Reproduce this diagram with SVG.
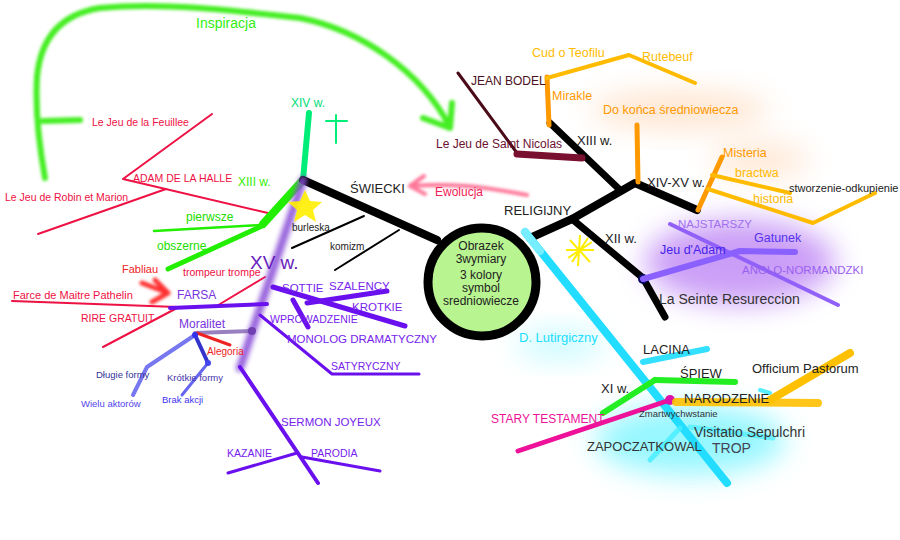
<svg xmlns="http://www.w3.org/2000/svg" width="900" height="540" viewBox="0 0 900 540">
<defs>
<filter id="glow" x="-50%" y="-50%" width="200%" height="200%"><feGaussianBlur stdDeviation="14"/></filter>
<filter id="soft" x="-20%" y="-20%" width="140%" height="140%"><feGaussianBlur stdDeviation="1.5"/></filter>
<filter id="blurline" x="-20%" y="-20%" width="140%" height="140%"><feGaussianBlur stdDeviation="2.5"/></filter>
<style>
text{font-family:"Liberation Sans","DejaVu Sans",sans-serif}
.k{fill:#222}
.ln{fill:none;stroke-linecap:round;stroke-linejoin:round}
.red{fill:#ee1144}
.pur{fill:#7722ee}
.yel{fill:#ffbb00}
.org{fill:#ff9900}
</style>
</defs>
<rect width="900" height="540" fill="#fff"/>

<g id="glows">
<ellipse cx="740" cy="262" rx="95" ry="42" fill="#a050f0" opacity="0.55" filter="url(#glow)"/>
<ellipse cx="690" cy="440" rx="95" ry="35" fill="#40f0ff" opacity="0.55" filter="url(#glow)"/>
<ellipse cx="560" cy="345" rx="45" ry="16" fill="#40f0ff" opacity="0.25" filter="url(#glow)"/>
<ellipse cx="680" cy="110" rx="90" ry="20" fill="#ffb070" opacity="0.3" filter="url(#glow)"/>
<ellipse cx="760" cy="160" rx="50" ry="20" fill="#ffb070" opacity="0.25" filter="url(#glow)"/>
</g>

<g id="connectors" class="ln">
<g stroke="#44ee22" stroke-width="6" filter="url(#soft)" fill="none">
<path d="M45 178 C40 150 35 110 37 77 C40 45 55 15 100 8 C160 2 230 10 300 18 C360 30 420 70 450 127"/>
<path d="M43 121 L80 120"/>
<path d="M423 118 L450 128 L452 103"/>
</g>
<g stroke="#ee1144" stroke-width="2">
<path d="M212 114 L123 179 L268 213"/>
<path d="M166 189 L38 234"/>
<path d="M12 301 L177 307"/>
<path d="M215 307 L265 277"/>
<path d="M103 347 L177 308"/>
</g>
<path d="M142 283 L168 293 M155 280 L168 293 L152 302" stroke="#ff3333" stroke-width="5" filter="url(#soft)"/>
<path d="M303 180 L309 113" stroke="#00ee77" stroke-width="6"/>
<path d="M326 121 L347 121 M336 115 L336 143" stroke="#00ee77" stroke-width="2"/>
<path d="M303 180 L263 224" stroke="#22ee00" stroke-width="8"/>
<path d="M154 231 L262 225" stroke="#22ee00" stroke-width="2.5"/>
<path d="M262 226 L168 269" stroke="#22ee00" stroke-width="5"/>
<path d="M303 180 L437 240" stroke="#000" stroke-width="8"/>
<path d="M364 216 L292 248" stroke="#000" stroke-width="2"/>
<path d="M399 230 L335 270" stroke="#000" stroke-width="2"/>
<path d="M303 180 L240 368" stroke="#8a50d8" stroke-width="8" filter="url(#blurline)" opacity="0.9"/>
<path d="M170 308 L267 304" stroke="#6a10ee" stroke-width="4"/>
<path d="M273 287 L405 326" stroke="#6a10ee" stroke-width="5"/>
<path d="M387 291 L307 303" stroke="#6a10ee" stroke-width="5"/>
<path d="M293 300 L308 327" stroke="#6a10ee" stroke-width="5"/>
<path d="M260 315 L332 374 L419 374" stroke="#6a10ee" stroke-width="3"/>
<path d="M240 367 L318 483" stroke="#6a10ee" stroke-width="4"/>
<path d="M228 473 L297 453" stroke="#6a10ee" stroke-width="3"/>
<path d="M302 457 L380 471" stroke="#6a10ee" stroke-width="3"/>
<path d="M195 333 L252 331" stroke="#8060b0" stroke-width="4" opacity="0.8"/>
<circle cx="252" cy="331" r="4" fill="#7040b0" stroke="none"/>
<path d="M197 333 L230 345" stroke="#ee2222" stroke-width="3"/>
<path d="M195 335 L147 367 L133 395" stroke="#7777f0" stroke-width="4"/>
<path d="M195 335 L208 363" stroke="#3333cc" stroke-width="4"/>
<path d="M208 363 L182 395" stroke="#6666f0" stroke-width="3"/>
<circle cx="195" cy="335" r="3" fill="#3333ee" stroke="none"/>
<circle cx="208" cy="363" r="3" fill="#4444ee" stroke="none"/>
<path d="M527 195 C480 186 450 183 410 186 M424 176 L410 186 L425 194" stroke="#ff7799" stroke-width="4" filter="url(#soft)"/>
<path d="M530 238 L572 219 L635 183 L697 210" stroke="#000" stroke-width="8"/>
<path d="M550 123 L620 190" stroke="#000" stroke-width="7"/>
<path d="M572 219 L643 278 L665 317" stroke="#000" stroke-width="7"/>
<circle cx="643" cy="279" r="5" fill="#0a0a60" stroke="none"/>
<path d="M458 73 L517 153" stroke="#4a0a18" stroke-width="3"/>
<path d="M517 154 L582 158" stroke="#7a1030" stroke-width="7"/>
<path d="M547 77 L549 125" stroke="#ff9900" stroke-width="5"/>
<path d="M547 78 L629 55 L695 83" stroke="#ffbb00" stroke-width="4"/>
<path d="M637 125 L638 182" stroke="#ff9900" stroke-width="5"/>
<path d="M722 157 L698 210" stroke="#ff9900" stroke-width="5"/>
<path d="M712 175 L790 193" stroke="#ffbb00" stroke-width="4"/>
<path d="M708 189 L813 223 L875 193" stroke="#ffbb00" stroke-width="4"/>
<path d="M670 224 L838 305" stroke="#9060f8" stroke-width="4"/>
<path d="M643 279 L740 251 L795 252" stroke="#8a60ff" stroke-width="6"/>
<path d="M525 232 L727 483" stroke="#22ddff" stroke-width="8"/>
<path d="M525 232 L540 251" stroke="#77eeff" stroke-width="8"/>
<path d="M643 362 L707 349" stroke="#33e0ff" stroke-width="6"/>
<path d="M690 427 L773 438" stroke="#55eeff" stroke-width="5" opacity="0.8"/>
<path d="M680 428 L650 460" stroke="#44eeff" stroke-width="5" opacity="0.8"/>
<path d="M760 390 L770 393" stroke="#55eeff" stroke-width="4"/>
<path d="M655 380 L735 382" stroke="#22ee22" stroke-width="6"/>
<path d="M655 380 L603 413" stroke="#22ee22" stroke-width="6"/>
<path d="M670 400 L518 451" stroke="#ee1199" stroke-width="5"/>
<circle cx="670" cy="400" r="5" fill="#dd11aa" stroke="none"/>
<path d="M676 402 L818 403" stroke="#ffc000" stroke-width="8" opacity="0.9"/>
<path d="M770 400 L850 353" stroke="#ffc000" stroke-width="8"/>
</g>

<g id="stars">
<polygon points="305,190 310,201 322,202 313,210 316,222 305,215 294,222 297,210 288,202 300,201" fill="#ffee00" opacity="0.9"/>
<path d="M570 240 L590 262 M568 258 L592 242 M580 235 L578 266 M566 250 L594 250 M572 262 L588 238" stroke="#ffee00" stroke-width="2" fill="none"/>
</g>

<g id="center">
<circle cx="482" cy="282" r="54" fill="#b8f590" stroke="#000" stroke-width="9"/>
<g font-size="12" class="k" text-anchor="middle">
<text x="481" y="250">Obrazek</text>
<text x="481" y="263">3wymiary</text>
<text x="481" y="279">3 kolory</text>
<text x="481" y="292">symbol</text>
<text x="481" y="305">sredniowiecze</text>
</g>
</g>

<g id="n-inspiracja"><text x="196" y="28" font-size="14" fill="#33ee11">Inspiracja</text></g>
<g id="n-feuillee"><text x="92" y="126" font-size="10.5" class="red">Le Jeu de la Feuillee</text></g>
<g id="n-adam"><text x="133" y="182" font-size="10.5" class="red">ADAM DE LA HALLE</text></g>
<g id="n-robin"><text x="5" y="201" font-size="10.5" class="red">Le Jeu de Robin et Marion</text></g>
<g id="n-xiv"><text x="291" y="107" font-size="12" fill="#00dd77">XIV w.</text></g>
<g id="n-xiii-green"><text x="238" y="186" font-size="12" fill="#33ee00">XIII w.</text></g>
<g id="n-pierwsze"><text x="186" y="221" font-size="12" fill="#22dd00">pierwsze</text></g>
<g id="n-obszerne"><text x="157" y="250" font-size="12" fill="#22dd00">obszerne</text></g>
<g id="n-fabliau"><text x="122" y="273" font-size="11" fill="#ee2222">Fabliau</text></g>
<g id="n-trompeur"><text x="183" y="276" font-size="10.5" class="red">trompeur trompe</text></g>
<g id="n-xv"><text x="250" y="269" font-size="19" fill="#6622bb">XV  w.</text></g>
<g id="n-pathelin"><text x="13" y="299" font-size="11" class="red">Farce de Maitre Pathelin</text></g>
<g id="n-farsa"><text x="177" y="299" font-size="12" fill="#7733dd">FARSA</text></g>
<g id="n-rire"><text x="81" y="322" font-size="10.5" class="red">RIRE GRATUIT</text></g>
<g id="n-moralitet"><text x="179" y="328" font-size="12" fill="#7733dd">Moralitet</text></g>
<g id="n-alegoria"><text x="207" y="355" font-size="10" fill="#ee2222">Alegoria</text></g>
<g id="n-dlugie"><text x="96" y="378" font-size="9.5" fill="#333399">Długie formy</text></g>
<g id="n-krotkie-formy"><text x="167" y="381" font-size="9.5" fill="#4433aa">Krótkie formy</text></g>
<g id="n-wielu"><text x="81" y="407" font-size="9.5" fill="#5544ee">Wielu aktorów</text></g>
<g id="n-brak"><text x="162" y="403" font-size="9.5" fill="#4433ee">Brak akcji</text></g>
<g id="n-sottie"><text x="282" y="292" font-size="11.5" class="pur">SOTTIE</text></g>
<g id="n-szalency"><text x="329" y="290" font-size="11.5" class="pur">SZALENCY</text></g>
<g id="n-krotkie"><text x="352" y="311" font-size="11.5" class="pur">KROTKIE</text></g>
<g id="n-wprowadzenie"><text x="270" y="323" font-size="10.5" class="pur">WPROWADZENIE</text></g>
<g id="n-monolog"><text x="287" y="343" font-size="11.5" class="pur">MONOLOG DRAMATYCZNY</text></g>
<g id="n-satyryczny"><text x="331" y="370" font-size="10.5" class="pur">SATYRYCZNY</text></g>
<g id="n-sermon"><text x="281" y="426" font-size="11.5" class="pur">SERMON JOYEUX</text></g>
<g id="n-kazanie"><text x="227" y="457" font-size="10.5" class="pur">KAZANIE</text></g>
<g id="n-parodia"><text x="311" y="457" font-size="10.5" class="pur">PARODIA</text></g>
<g id="n-swiecki"><text x="350" y="193" font-size="13" class="k">ŚWIECKI</text></g>
<g id="n-ewolucja"><text x="435" y="196" font-size="12" fill="#ee2255">Ewolucja</text></g>
<g id="n-burleska"><text x="292" y="231" font-size="10" class="k">burleska</text></g>
<g id="n-komizm"><text x="330" y="250" font-size="10" class="k">komizm</text></g>
<g id="n-religijny"><text x="504" y="215" font-size="13" class="k">RELIGIJNY</text></g>
<g id="n-bodel"><text x="471" y="85" font-size="12" fill="#4a1020">JEAN BODEL</text></g>
<g id="n-teofil"><text x="532" y="57" font-size="12.5" class="yel">Cud o Teofilu</text></g>
<g id="n-rutebeuf"><text x="642" y="61" font-size="12.5" class="yel">Rutebeuf</text></g>
<g id="n-mirakle"><text x="552" y="100" font-size="12.5" class="org">Mirakle</text></g>
<g id="n-dokonca"><text x="603" y="114" font-size="12.5" class="org">Do końca średniowiecza</text></g>
<g id="n-nicolas"><text x="436" y="148" font-size="12" fill="#6b1030">Le Jeu de Saint Nicolas</text></g>
<g id="n-xiii"><text x="577" y="145" font-size="13" class="k">XIII w.</text></g>
<g id="n-xivxv"><text x="647" y="187" font-size="13" class="k">XIV-XV w.</text></g>
<g id="n-misteria"><text x="723" y="157" font-size="12.5" class="org">Misteria</text></g>
<g id="n-bractwa"><text x="735" y="177" font-size="12.5" class="yel">bractwa</text></g>
<g id="n-historia"><text x="753" y="203" font-size="12.5" class="yel">historia</text></g>
<g id="n-stworzenie"><text x="789" y="192" font-size="11" class="k">stworzenie-odkupienie</text></g>
<g id="n-najstarszy"><text x="678" y="228" font-size="11.5" fill="#a070f0">NAJSTARSZY</text></g>
<g id="n-gatunek"><text x="754" y="242" font-size="12.5" fill="#5533ee">Gatunek</text></g>
<g id="n-jeu-adam"><text x="660" y="254" font-size="12.5" fill="#4422ee">Jeu d'Adam</text></g>
<g id="n-anglo"><text x="742" y="274" font-size="11.5" fill="#9a60f0">ANGLO-NORMANDZKI</text></g>
<g id="n-xii"><text x="605" y="243" font-size="13" class="k">XII w.</text></g>
<g id="n-seinte"><text x="659" y="304" font-size="14" fill="#333">La Seinte Resureccion</text></g>
<g id="n-liturgiczny"><text x="519" y="342" font-size="13" fill="#22ddff">D. Lutirgiczny</text></g>
<g id="n-lacina"><text x="643" y="354" font-size="13" class="k">LACINA</text></g>
<g id="n-spiew"><text x="680" y="378" font-size="13" class="k">ŚPIEW</text></g>
<g id="n-xi"><text x="601" y="393" font-size="13" class="k">XI w.</text></g>
<g id="n-narodzenie"><text x="684" y="403" font-size="13" class="k">NARODZENIE</text></g>
<g id="n-officium"><text x="752" y="373" font-size="13" class="k">Officium Pastorum</text></g>
<g id="n-stary"><text x="491" y="423" font-size="12" fill="#ee1199">STARY TESTAMENT</text></g>
<g id="n-zmartwych"><text x="639" y="417" font-size="9.5" fill="#333">Zmartwychwstanie</text></g>
<g id="n-visitatio"><text x="694" y="437" font-size="14" fill="#333">Visitatio Sepulchri</text></g>
<g id="n-zapoczatkowal"><text x="587" y="451" font-size="13" fill="#333">ZAPOCZATKOWAL</text></g>
<g id="n-trop"><text x="712" y="453" font-size="14" fill="#445">TROP</text></g>
</svg>
